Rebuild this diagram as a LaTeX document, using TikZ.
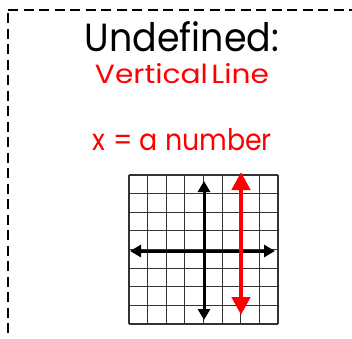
\documentclass[tikz,border=0pt]{standalone}
\usepackage{fontspec}
\setmainfont{Poppins}
\usetikzlibrary{arrows.meta}
\definecolor{lred}{RGB}{255,0,0}
\begin{document}
\begin{tikzpicture}[x=1pt,y=-1pt,
  border/.style={line width=2.5pt,dash pattern=on 10pt off 5.5pt},
  gridline/.style={line width=1.1pt,black!80},
  axis/.style={line width=3pt,{Triangle[length=11pt,width=12pt]}-{Triangle[length=11pt,width=12pt]}},
  redline/.style={line width=4.5pt,lred,{Triangle[length=18pt,width=18pt]}-{Triangle[length=18pt,width=18pt]}},
  txt/.style={inner sep=0pt,anchor=south}]
\useasboundingbox (0,0) rectangle (352,338);
\draw[border] (8,10) -- (352,10);
\draw[border] (8,13) -- (8,338);
\node[txt] (title) at (182,52) {\resizebox{194pt}{30pt}{Undefined:}};
\node[txt,text=lred] (sub) at (182,84) {\resizebox{174pt}{20pt}{Vertical\hspace{0.12em}Line}};
\node[txt,text=lred] (eq) at (182.5,151) {\resizebox{179pt}{22pt}{x = a number}};
\foreach \i in {0,...,8} {
  \draw[gridline] ({129+\i*18.625},175) -- ({129+\i*18.625},324);
  \draw[gridline] (129,{175+\i*18.625}) -- (278,{175+\i*18.625});
}
\coordinate (yt) at (204,181);
\coordinate (yb) at (204,320);
\coordinate (xl) at (130,251);
\coordinate (xr) at (275,251);
\coordinate (rt) at (241,172);
\coordinate (rb) at (241,315);
\draw[axis] (yb) -- (yt);
\draw[axis] (xl) -- (xr);
\draw[redline] (rb) -- (rt);
\end{tikzpicture}
\end{document}
